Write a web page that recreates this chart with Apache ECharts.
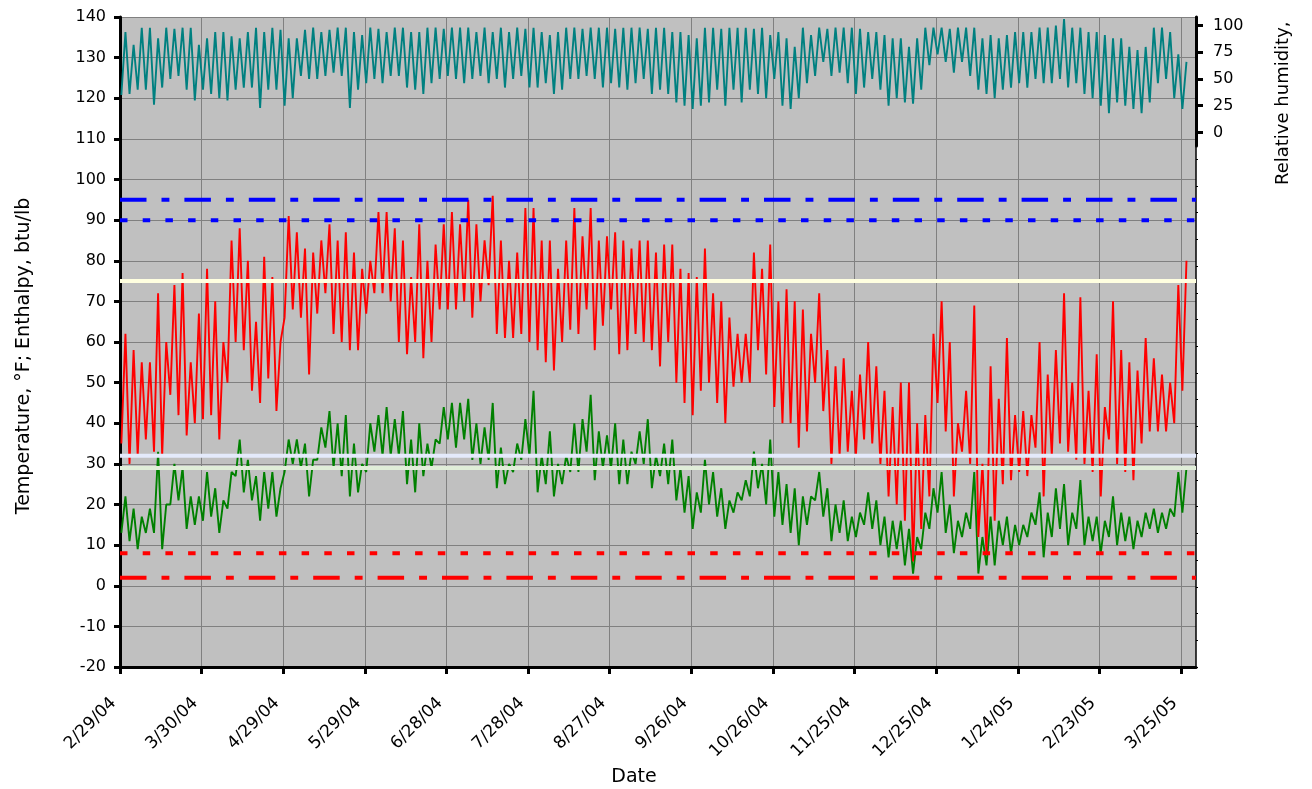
<!DOCTYPE html>
<html>
<head>
<meta charset="utf-8">
<script src="https://cdn.jsdelivr.net/npm/echarts@6/dist/echarts.min.js"></script>
<style>
  html, body { margin: 0; padding: 0; background: #ffffff; }
  #chart { width: 1312px; height: 789px; }
</style>
</head>
<body>
<div id="chart"></div>
<script>
// ---------------- DATA ----------------
// x values are days after 2/29/04; readings grouped in 3-day buckets (low, high)
const xTickDays = [0, 30, 60, 90, 120, 150, 180, 210, 240, 270, 300, 330, 360, 390];
const xTickLabels = ['2/29/04', '3/30/04', '4/29/04', '5/29/04', '6/28/04', '7/28/04', '8/27/04',
  '9/26/04', '10/26/04', '11/25/04', '12/25/04', '1/24/05', '2/23/05', '3/25/05'];
const bucketDays = 3;

// Temperature, °F
const tempHigh = [62,58,55,55,72,60,74,77,55,67,78,70,60,85,88,80,65,81,76,60,
  91,87,83,82,85,89,85,87,82,78,80,92,92,88,85,76,89,80,84,89,
  92,89,95,89,85,96,85,80,82,93,93,85,85,78,85,93,86,93,85,86,
  87,85,83,85,85,82,84,84,78,77,76,83,72,70,66,62,62,82,78,84,
  70,73,70,68,62,72,58,54,56,48,52,60,54,48,44,50,50,40,42,62,
  70,60,40,48,69,30,54,46,61,42,43,42,60,52,58,72,50,71,48,57,
  44,70,58,55,53,61,56,52,50,74,80];
const tempLow = [35,30,32,36,33,32,47,42,37,40,41,42,36,50,60,58,48,45,51,43,
  66,68,66,52,67,72,62,60,58,58,67,72,72,70,60,57,60,56,60,68,
  68,68,70,66,70,74,62,61,61,62,60,58,55,53,60,63,62,68,58,64,
  68,57,58,62,60,58,54,60,50,45,42,48,50,45,40,49,50,50,58,52,
  44,40,40,34,38,50,43,30,32,33,32,36,35,30,22,20,16,6,14,22,
  45,38,22,33,30,12,8,16,25,26,28,27,34,22,32,35,33,31,30,28,
  22,36,30,28,26,35,38,38,38,40,48];

// Enthalpy, btu/lb
const enthHigh = [22,19,17,19,33,20,30,29,22,22,28,24,21,28,36,31,27,28,28,24,
  36,36,35,31,39,43,40,42,35,30,40,42,44,41,43,36,40,35,36,44,
  45,45,46,40,39,45,34,30,35,41,48,32,38,30,32,40,41,47,38,37,
  40,36,33,38,41,32,35,36,29,27,23,31,28,24,21,23,26,33,30,36,
  28,25,24,22,22,28,24,20,21,17,18,23,21,17,16,16,14,12,18,24,
  28,20,16,18,28,12,17,16,17,15,15,18,23,18,24,25,18,26,17,17,
  16,22,18,17,16,18,19,18,19,28,29];
const enthLow = [13,11,9,13,13,9,20,21,14,15,16,17,13,19,27,23,21,16,19,17,
  28,30,29,22,31,34,29,27,22,23,28,33,32,32,32,25,23,27,29,35,
  36,34,36,31,30,31,24,25,28,31,32,23,25,22,25,28,28,33,26,29,
  29,25,25,30,30,24,27,25,21,18,14,18,20,17,14,18,21,22,24,20,
  17,15,13,10,15,21,17,11,13,11,12,15,14,10,7,9,5,3,9,14,
  18,13,8,12,14,3,5,5,10,8,10,12,15,7,12,14,10,14,10,11,
  8,12,10,11,9,12,14,13,14,17,18];

// Relative humidity, %
const rhHigh = [94,82,98,98,88,98,97,98,98,82,88,94,94,90,88,94,98,94,98,96,
  88,88,96,98,94,96,98,98,94,91,98,97,94,98,98,94,94,98,98,97,
  98,98,98,94,98,94,98,94,98,97,98,94,91,94,98,98,97,98,98,98,
  97,98,98,98,97,98,98,94,94,91,88,98,98,97,98,98,98,97,98,91,
  94,88,80,98,91,98,97,98,98,98,97,94,94,91,88,88,80,88,98,98,
  98,97,98,98,98,88,91,88,91,94,94,94,98,98,100,106,98,98,94,94,
  91,88,88,80,77,80,98,98,94,73,66];
const rhLow = [35,36,40,40,26,42,50,53,40,30,40,36,32,30,40,42,42,23,40,40,
  25,32,53,50,50,53,56,53,23,40,46,50,46,53,53,42,40,36,46,50,
  53,50,46,50,53,46,50,42,50,53,42,42,46,36,40,50,50,53,50,42,
  46,42,40,46,50,36,40,36,28,25,22,25,28,40,25,40,28,40,36,32,
  50,25,22,32,46,53,66,53,56,46,36,42,50,40,25,32,28,27,40,63,
  73,66,56,66,53,40,36,32,40,42,46,42,50,46,46,50,42,46,36,32,
  25,18,28,25,22,18,28,46,50,32,22];

// Reference levels (left axis)
const upperLimits = [95, 90];       // blue
const comfortLevels = [75, 32, 29]; // pale
const lowerLimits = [8, 2];         // red

const axisTitles = {
  x: 'Date',
  left: 'Temperature, °F; Enthalpy, btu/lb',
  right: 'Relative humidity,'
};

// ---------------- BUILD ----------------
function zigzag(low, high) {
  const out = [];
  for (let i = 0; i < low.length; i++) {
    out.push([i * bucketDays + 0.5, low[i]]);
    out.push([i * bucketDays + 2.0, high[i]]);
  }
  return out;
}
const X_MAX = 395.5;
function flat(v) { return [[0, v], [X_MAX, v]]; }

const FONT = 'DejaVu Sans';
const dashDot = [26.5, 15, 7.9, 15];
const dotted = [7.5, 15.2];

function refLine(name, v, color, type) {
  return { type: 'line', name: name, data: flat(v), symbol: 'none', silent: true, z: 10,
    lineStyle: { color: color, width: 4, type: type, cap: 'butt' } };
}
const refSeries = [
  refLine('ref95', upperLimits[0], '#0000FF', dashDot),
  refLine('ref90', upperLimits[1], '#0000FF', dotted),
  refLine('ref75', comfortLevels[0], '#FFFFE0', 'solid'),
  refLine('ref32', comfortLevels[1], '#E4EAFB', 'solid'),
  refLine('ref29', comfortLevels[2], '#E0EED8', 'solid'),
  refLine('ref8', lowerLimits[0], '#FF0000', dotted),
  refLine('ref2', lowerLimits[1], '#FF0000', dashDot)
];

const chart = echarts.init(document.getElementById('chart'), null, { renderer: 'canvas' });
const option = {
  animation: false,
  backgroundColor: '#FFFFFF',
  textStyle: { fontFamily: FONT, color: '#000' },
  grid: [
    { left: 120, top: 17, width: 1076, height: 650, show: true, backgroundColor: '#C0C0C0',
      borderWidth: 0, containLabel: false, outerBoundsMode: 'none' },
    { left: 120, top: 17, width: 1076, height: 129, show: false, containLabel: false, outerBoundsMode: 'none' }
  ],
  xAxis: [
    {
      type: 'value', gridIndex: 0, min: 0, max: X_MAX, interval: 30,
      name: axisTitles.x, nameLocation: 'middle', nameGap: 99,
      nameTextStyle: { fontFamily: FONT, fontSize: 19, color: '#000', padding: [0, 48, 0, 0] },
      axisLine: { show: true, onZero: false, lineStyle: { color: '#000', width: 3 } },
      axisTick: { show: true, customValues: xTickDays, length: 7, lineStyle: { color: '#000', width: 3 } },
      axisLabel: {
        customValues: xTickDays, rotate: 45, margin: 27, fontSize: 17, fontFamily: FONT, color: '#000',
        rich: { t: { fontSize: 17, fontFamily: FONT, color: '#000', padding: [0, 9, 0, 0] } },
        formatter: function (v) {
          const i = xTickDays.indexOf(Math.round(v));
          return i >= 0 ? '{t|' + xTickLabels[i] + '}' : '';
        }
      },
      splitLine: { show: true, lineStyle: { color: '#808080', width: 1 } }
    },
    {
      type: 'value', gridIndex: 1, min: 0, max: X_MAX, show: false
    }
  ],
  yAxis: [
    {
      type: 'value', gridIndex: 0, min: -20, max: 140, interval: 10, position: 'left',
      name: axisTitles.left, nameLocation: 'middle', nameGap: 86, nameRotate: 90,
      nameTextStyle: { fontFamily: FONT, fontSize: 19, color: '#000', padding: [0, 28, 0, 0] },
      axisLine: { show: true, onZero: false, lineStyle: { color: '#000', width: 3 } },
      axisTick: { show: true, length: 6, lineStyle: { color: '#000', width: 3 } },
      axisLabel: { margin: 14, fontSize: 16, fontFamily: FONT, color: '#000' },
      splitLine: { show: true, lineStyle: { color: '#808080', width: 1 } }
    },
    {
      type: 'value', gridIndex: 0, min: -500, max: 108, interval: 25, position: 'right',
      axisLine: { show: true, onZero: false, lineStyle: { color: '#000', width: 1.5 } },
      axisTick: { show: true, length: 2, lineStyle: { color: '#000', width: 1 } },
      axisLabel: { show: false },
      splitLine: { show: false }
    },
    {
      type: 'value', gridIndex: 1, min: -12.7, max: 108, position: 'right',
      axisLine: { show: true, onZero: false, lineStyle: { color: '#000', width: 3 } },
      axisTick: { show: true, customValues: [0, 25, 50, 75, 100], length: 7, lineStyle: { color: '#000', width: 3 } },
      axisLabel: { customValues: [0, 25, 50, 75, 100], margin: 17, fontSize: 16, fontFamily: FONT, color: '#000' },
      splitLine: { show: false }
    }
  ],
  graphic: [
    {
      type: 'text', x: 1283, y: 185, rotation: Math.PI / 2, silent: true,
      style: { text: axisTitles.right, font: '18px "DejaVu Sans"', fill: '#000', align: 'left', verticalAlign: 'middle' }
    }
  ],
  series: [
    { type: 'line', name: 'Enthalpy', xAxisIndex: 0, yAxisIndex: 0, data: zigzag(enthLow, enthHigh),
      symbol: 'none', z: 3, lineStyle: { color: '#008000', width: 1.9 } },
    { type: 'line', name: 'Temperature', xAxisIndex: 0, yAxisIndex: 0, data: zigzag(tempLow, tempHigh),
      symbol: 'none', z: 4, lineStyle: { color: '#FF0000', width: 1.9 } },
    { type: 'line', name: 'Relative humidity', xAxisIndex: 0, yAxisIndex: 1, data: zigzag(rhLow, rhHigh),
      symbol: 'none', z: 4, lineStyle: { color: '#008080', width: 1.9 } }
  ].concat(refSeries)
};
chart.setOption(option);
</script>
</body>
</html>
